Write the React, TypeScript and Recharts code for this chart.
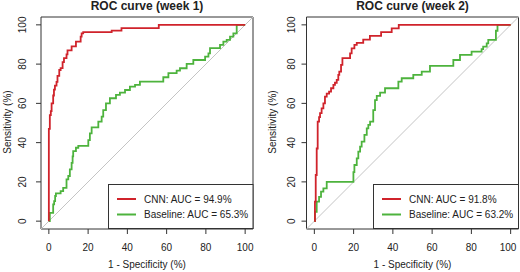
import React from "react";
import {
  LineChart,
  Line,
  XAxis,
  YAxis,
  ReferenceArea,
  ReferenceLine,
  Legend,
} from "recharts";

// ROC curves. FPR = 1 - specificity (%), TPR = sensitivity (%).
// Each pair is the point where the curve jumps up (drawn as stepAfter).

const TICKS = [0, 20, 40, 60, 80, 100];

const CNN_W1_FPR = [0, 0, 0.5, 1.0, 1.4, 2.2, 2.6, 3.1, 3.9, 4.4, 5.3, 6.0, 7.0, 7.7, 9.0, 9.5, 11.6, 13.8, 16.2, 16.7, 17.5, 32, 37, 56, 100];
const CNN_W1_TPR = [0, 47, 54, 56, 60, 64, 67, 69, 71, 74, 77, 78, 81, 83, 85, 87, 89, 91.5, 94, 95.7, 96.3, 97.1, 98.3, 100, 100];

const BASE_W1_FPR = [0, 0.5, 2.2, 2.7, 3.2, 3.6, 6.0, 7.3, 9.0, 9.9, 10.7, 11.6, 12.1, 12.4, 13.8, 15.0, 20.1, 20.9, 21.8, 25.2, 26.9, 27.7, 29.1, 31.1, 34.2, 36.2, 38.8, 41.3, 43.9, 46.4, 58.3, 60.9, 65.1, 66.8, 70.2, 73.6, 79.6, 81.3, 82.1, 87.2, 88.9, 90.6, 92.3, 94.0, 95.7, 100];
const BASE_W1_TPR = [0, 4.2, 8.5, 10.2, 12.8, 14.1, 15.3, 17, 21.3, 23, 26.4, 29.7, 33, 35.7, 37.4, 38.3, 41.3, 44.7, 47.8, 50.7, 53.2, 56.6, 60, 62.6, 64.3, 65.5, 66.8, 68.5, 69.4, 71.1, 73.3, 75.4, 76.7, 77.9, 80.1, 82.1, 83.8, 85.5, 88.1, 89.8, 91.5, 92.3, 94, 95.7, 100, 100];

const CNN_W2_FPR = [0, 0.3, 0.7, 1.2, 1.7, 2.4, 2.9, 3.7, 4.6, 5.4, 6.3, 7.5, 8.5, 9.7, 10.5, 11.4, 12.2, 12.7, 13.6, 14.3, 18.2, 19.0, 20.4, 21.6, 24.9, 28.3, 34.0, 39.4, 43.0, 100];
const CNN_W2_TPR = [0, 9.9, 23.5, 37, 50.7, 53, 55, 57.5, 60, 63.4, 65, 66, 67.7, 69.4, 70.5, 72, 74.5, 76.2, 79.6, 83, 85.5, 88, 89.8, 90.8, 92.5, 94.4, 96.3, 98.2, 100, 100];

const BASE_W2_FPR = [0, 0.3, 1.2, 2.4, 3.4, 4.6, 6.3, 19.9, 20.4, 21.6, 22.4, 23.3, 24.1, 25.5, 26.7, 27.5, 28.4, 30.0, 30.9, 31.8, 33.5, 36.0, 42.8, 44.5, 50.4, 54.7, 58.9, 70.8, 74.2, 80.1, 85.2, 86.0, 87.8, 88.6, 92.5, 93.3, 100];
const BASE_W2_TPR = [0, 4.8, 9.9, 12.4, 15, 16.7, 20, 25, 28.6, 32, 35.4, 38, 40.5, 43.9, 47.3, 49, 50.7, 56.6, 61.7, 63.8, 65.5, 67.7, 71.1, 72.8, 74.5, 76.2, 79.1, 82.1, 84.7, 86.4, 87.6, 88.9, 90.6, 92.3, 97, 100, 100];

const TITLES = ["ROC curve (week 1)", "ROC curve (week 2)"];
const CNN_AUC = ["94.9%", "91.8%"];
const BASE_AUC = ["65.3%", "63.2%"];

const RED = "#d0232b";
const GREEN = "#4db33d";
const INK = "#222";
const FONT = "'Liberation Sans', Arial, sans-serif";

const toPoints = (xs: number[], ys: number[]) => xs.map((x, i) => ({ x, y: ys[i] }));

interface PanelProps {
  title: string;
  cnn: { x: number; y: number }[];
  base: { x: number; y: number }[];
  cnnAuc: string;
  baseAuc: string;
  plotLeft: number; // y-axis width
  rightMargin: number;
  yTickX: number;
  legendLeft: number;
}

function LegendBox({ width, cnnAuc, baseAuc }: { width: number; cnnAuc: string; baseAuc: string }) {
  return (
    <svg width={width} height={45} style={{ display: "block", fontFamily: FONT }}>
      <rect x={0.5} y={0.5} width={width - 1} height={44} fill="#fff" stroke="#333" />
      <line x1={9} x2={28} y1={15} y2={15} stroke={RED} strokeWidth={2} />
      <line x1={9} x2={28} y1={30.5} y2={30.5} stroke={GREEN} strokeWidth={2} />
      <text x={36} y={15} fontSize={10} fill={INK} dominantBaseline="central">
        {`CNN: AUC = ${cnnAuc}`}
      </text>
      <text x={36} y={30.5} fontSize={10} fill={INK} dominantBaseline="central">
        {`Baseline: AUC = ${baseAuc}`}
      </text>
    </svg>
  );
}

function Panel(p: PanelProps) {
  const W = 260;
  const H = 272;
  const plotRight = W - p.rightMargin;
  const midX = (p.plotLeft + plotRight) / 2;
  const legendWidth = plotRight - p.legendLeft + 0.5;

  return (
    <div style={{ position: "relative", width: W, height: H }}>
      <LineChart
        width={W}
        height={H}
        margin={{ top: 17, right: p.rightMargin, bottom: 0, left: 0 }}
      >
        <XAxis
          dataKey="x"
          type="number"
          domain={[-4, 104]}
          ticks={TICKS}
          allowDataOverflow
          height={43}
          axisLine={false}
          tickLine={{ stroke: "#333" }}
          tickSize={5}
          tick={(t: any) => (
            <text
              x={t.x}
              y={247}
              textAnchor="middle"
              dominantBaseline="central"
              fontSize={10}
              fill={INK}
              fontFamily={FONT}
            >
              {t.payload.value}
            </text>
          )}
        />
        <YAxis
          type="number"
          domain={[-4, 104]}
          ticks={TICKS}
          allowDataOverflow
          width={p.plotLeft}
          axisLine={false}
          tickLine={{ stroke: "#333" }}
          tickSize={5}
          tick={(t: any) => (
            <text
              x={p.yTickX}
              y={t.y}
              transform={`rotate(-90 ${p.yTickX} ${t.y})`}
              textAnchor="middle"
              dominantBaseline="central"
              fontSize={10}
              fill={INK}
              fontFamily={FONT}
            >
              {t.payload.value}
            </text>
          )}
        />
        <ReferenceLine
          segment={[
            { x: -4, y: -4 },
            { x: 104, y: 104 },
          ]}
          stroke="#c4c4c4"
          strokeWidth={1}
        />
        <Line
          data={p.base}
          dataKey="y"
          name="Baseline"
          type="stepAfter"
          stroke={GREEN}
          strokeWidth={1.8}
          dot={false}
          isAnimationActive={false}
        />
        <Line
          data={p.cnn}
          dataKey="y"
          name="CNN"
          type="stepAfter"
          stroke={RED}
          strokeWidth={1.8}
          dot={false}
          isAnimationActive={false}
        />
        <ReferenceArea
          x1={-4}
          x2={104}
          y1={-4}
          y2={104}
          fill="none"
          stroke="#333"
          strokeWidth={1}
        />
        <Legend
          layout="vertical"
          align="center"
          verticalAlign="middle"
          wrapperStyle={{ left: p.legendLeft, top: 184, width: "auto" }}
          content={() => (
            <LegendBox width={legendWidth} cnnAuc={p.cnnAuc} baseAuc={p.baseAuc} />
          )}
        />
      </LineChart>

      {/* title and axis titles */}
      <svg
        width={W}
        height={H}
        style={{ position: "absolute", left: 0, top: 0, pointerEvents: "none", fontFamily: FONT }}
      >
        <text x={midX} y={10.3} textAnchor="middle" fontSize={12} fontWeight="bold" fill={INK}>
          {p.title}
        </text>
        <text x={midX} y={264} textAnchor="middle" dominantBaseline="central" fontSize={10} fill={INK}>
          1 - Specificity (%)
        </text>
        <text
          x={p.plotLeft - 34}
          y={122}
          transform={`rotate(-90 ${p.plotLeft - 34} 122)`}
          textAnchor="middle"
          dominantBaseline="central"
          fontSize={10}
          fill={INK}
        >
          Sensitivity (%)
        </text>
      </svg>
    </div>
  );
}

export default function App() {
  return (
    <div
      style={{
        position: "absolute",
        left: 0,
        top: 0,
        width: 520,
        height: 272,
        background: "#fff",
        display: "flex",
      }}
    >
      <Panel
        title={TITLES[0]}
        cnn={toPoints(CNN_W1_FPR, CNN_W1_TPR)}
        base={toPoints(BASE_W1_FPR, BASE_W1_TPR)}
        cnnAuc={CNN_AUC[0]}
        baseAuc={BASE_AUC[0]}
        plotLeft={41}
        rightMargin={7}
        yTickX={22.5}
        legendLeft={108}
      />
      <Panel
        title={TITLES[1]}
        cnn={toPoints(CNN_W2_FPR, CNN_W2_TPR)}
        base={toPoints(BASE_W2_FPR, BASE_W2_TPR)}
        cnnAuc={CNN_AUC[1]}
        baseAuc={BASE_AUC[1]}
        plotLeft={46.5}
        rightMargin={1.5}
        yTickX={31.5}
        legendLeft={113}
      />
    </div>
  );
}
